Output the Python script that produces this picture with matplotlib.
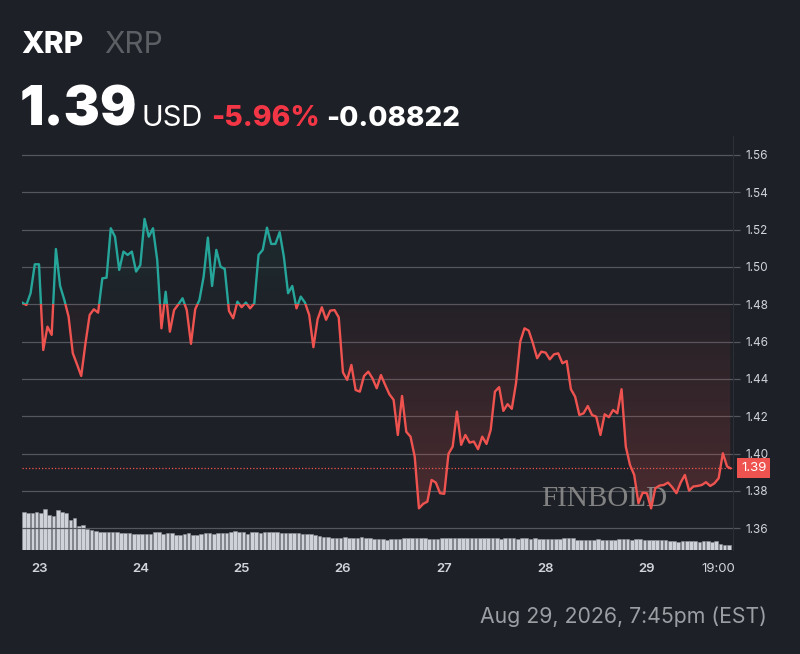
import numpy as np
from matplotlib import pyplot as plt
from matplotlib.path import Path
from matplotlib.patches import PathPatch, Rectangle
from matplotlib.colors import to_rgb
from matplotlib.transforms import ScaledTranslation, blended_transform_factory

# hourly closes, Aug 22 20:00 -> Aug 29 19:00, plus the 19:45 print
prices = [
    1.4809, 1.4796, 1.4859, 1.5014, 1.5014, 1.4555, 1.4680, 1.4636, 1.5096, 1.4898,
    1.4823, 1.4734, 1.4538, 1.4478, 1.4416, 1.4590, 1.4743, 1.4773, 1.4755, 1.4939,
    1.4942, 1.5207, 1.5162, 1.4984, 1.5082, 1.5064, 1.5082, 1.4975, 1.5010, 1.5257,
    1.5162, 1.5207, 1.5037, 1.4671, 1.4867, 1.4653, 1.4769, 1.4799, 1.4832, 1.4769,
    1.4588, 1.4773, 1.4823, 1.4948, 1.5157, 1.4898, 1.5091, 1.5001, 1.4989, 1.4764,
    1.4725, 1.4814, 1.4784, 1.4809, 1.4778, 1.4805, 1.5064, 1.5091, 1.5210, 1.5123,
    1.5123, 1.5186, 1.5055, 1.4859, 1.4898, 1.4778, 1.4841, 1.4809, 1.4743, 1.4570,
    1.4720, 1.4784, 1.4717, 1.4766, 1.4769, 1.4730, 1.4435, 1.4395, 1.4475, 1.4341,
    1.4332, 1.4416, 1.4439, 1.4403, 1.4350, 1.4421, 1.4368, 1.4318, 1.4288, 1.4100,
    1.4309, 1.4117, 1.4091, 1.3984, 1.3707, 1.3731, 1.3743, 1.3859, 1.3845, 1.3788,
    1.3785, 1.3999, 1.4038, 1.4225, 1.4047, 1.4100, 1.4059, 1.4065, 1.4024, 1.4091,
    1.4052, 1.4127, 1.4332, 1.4356, 1.4229, 1.4265, 1.4240, 1.4377, 1.4600, 1.4671,
    1.4659, 1.4591, 1.4511, 1.4546, 1.4541, 1.4505, 1.4532, 1.4537, 1.4484, 1.4496,
    1.4345, 1.4305, 1.4207, 1.4216, 1.4255, 1.4207, 1.4198, 1.4100, 1.4211, 1.4195,
    1.4234, 1.4216, 1.4345, 1.4038, 1.3939, 1.3886, 1.3734, 1.3791, 1.3788, 1.3707,
    1.3815, 1.3829, 1.3832, 1.3845, 1.3820, 1.3788, 1.3845, 1.3886, 1.3802, 1.3824,
    1.3827, 1.3832, 1.3847, 1.3827, 1.3841, 1.3868, 1.4002, 1.3931, 1.3922,
]
# hours relative to Aug 23 00:00
hours = list(range(-4, 164)) + [163.75]

volume = [
    37.7, 36.7, 36.7, 37.7, 36.7, 41.3, 35.3, 33.7, 39.7, 38.3, 36.7, 30.3, 32.3,
    24.3, 25.0, 20.7, 19.7, 19.0, 18.3, 18.3, 17.7, 17.7, 18.3, 16.7, 16.7, 16.7, 16.3,
    16.3, 16.3, 16.3, 16.3, 17.7, 17.7, 15.7, 17.3, 16.7, 14.7, 14.7, 15.7, 16.7, 15.3, 15.3,
    15.7, 17.3, 17.3, 15.7, 17.3, 16.7, 16.7, 18.3, 19.0, 18.3, 18.3, 16.3, 18.3, 18.0,
    17.3, 18.3, 18.3, 18.3, 18.3, 17.3, 17.3, 16.7, 16.7, 16.7, 15.7, 15.7, 15.7, 15.0,
    14.0, 13.3, 13.3, 12.3, 12.3, 12.3, 13.0, 12.3, 12.3, 12.3, 13.0, 11.7, 11.7, 10.7,
    10.7, 10.7, 10.0, 11.3, 10.7, 10.7, 11.7, 11.7, 12.3, 11.7, 12.3, 12.3, 10.7, 11.3,
    10.7, 12.3, 12.3, 12.3, 12.3, 11.7, 11.7, 11.7, 11.7, 12.3, 12.3, 12.3, 12.3, 12.3,
    11.7, 11.3, 11.7, 12.0, 11.7, 11.3, 11.7, 11.7, 11.3, 11.7, 11.3,
    11.3, 11.3, 10.7, 11.3, 11.3, 11.7, 11.7, 11.7,
    10.3, 10.3, 10.0, 10.3, 10.3, 10.7, 10.3, 10.3, 10.0, 10.3, 11.3,
    10.7, 10.7, 10.3, 10.7, 10.7, 10.0, 10.0, 10.3, 10.0, 10.0, 9.7,
    8.7, 8.7, 8.3, 8.7, 9.0, 8.7, 8.7, 8.3, 8.7, 8.7, 8.3, 8.7, 5.7, 5.3, 5.3,
]

prev_close = 1.4804
last_price = prices[-1]
day_ticks = [0, 24, 48, 72, 96, 120, 144, 163]
day_labels = ['23', '24', '25', '26', '27', '28', '29', '19:00']
y_ticks = [1.36, 1.38, 1.40, 1.42, 1.44, 1.46, 1.48, 1.50, 1.52, 1.54, 1.56]

BG = '#1d2026'
GREEN = '#26a69a'
RED = '#ef5350'
GRID = '#54575d'
TXT = '#d1d4dc'
W, H = 800, 654

plt.rcParams['font.family'] = ['Inter', 'DejaVu Sans']


def px(x, y):
    return x / W, 1 - y / H


def gradient_area(ax, x, y, base, above, color, a_lo, a_hi):
    where = y >= base if above else y <= base
    coll = ax.fill_between(x, y, base, where=where, interpolate=True,
                           facecolor='none', edgecolor='none')
    path = Path.make_compound_path(*coll.get_paths())
    clip = PathPatch(path, transform=ax.transData, facecolor='none', edgecolor='none')
    ax.add_patch(clip)
    ramp = np.linspace(0, 1, 256)
    rgba = np.zeros((256, 1, 4))
    rgba[:, 0, :3] = to_rgb(color)
    if above:
        lo, hi = base, y.max()
        rgba[:, 0, 3] = a_lo + (a_hi - a_lo) * ramp
    else:
        lo, hi = y.min(), base
        rgba[:, 0, 3] = a_hi - (a_hi - a_lo) * ramp
    im = ax.imshow(rgba, extent=(x[0], x[-1], lo, hi), origin='lower',
                   aspect='auto', zorder=1, interpolation='bilinear')
    im.set_clip_path(clip)


x = np.array(hours, dtype=float)
y = np.array(prices)
xlim = (-4.03, 164.4)
ylim = (1.3484, 1.5701)

fig = plt.figure(figsize=(W / 100, H / 100), dpi=100, facecolor=BG)
rect = [22 / W, 104 / H, 711 / W, 414 / H]

vax = fig.add_axes(rect)
vax.set_facecolor(BG)
vax.bar(x[:len(volume)], volume, width=0.86, align='edge',
        color='#cfd2d9', edgecolor='#8e9198', linewidth=0.4)
vax.set_xlim(xlim)
vax.set_ylim(0, 414)
vax.axis('off')

ax = fig.add_axes(rect)
ax.set_facecolor('none')
ax.set_xlim(xlim)
ax.set_ylim(ylim)

gradient_area(ax, x, y, prev_close, True, GREEN, 0.02, 0.10)
gradient_area(ax, x, y, prev_close, False, RED, 0.03, 0.22)

# watermark
ax.text(134, 1.3717, 'FINBOLD', ha='center', va='baseline', fontsize=21,
        family='Liberation Serif', color='#8d8d8d', alpha=0.9, zorder=2)

g_line, = ax.plot(x, y, color=GREEN, lw=1.7, zorder=3, solid_joinstyle='round')
g_line.set_clip_path(Rectangle((xlim[0], prev_close), 200, 1, transform=ax.transData))
r_line, = ax.plot(x, y, color=RED, lw=1.7, zorder=3, solid_joinstyle='round')
r_line.set_clip_path(Rectangle((xlim[0], prev_close - 1), 200, 1, transform=ax.transData))

ax.axhline(last_price, color=RED, lw=0.9, ls=(0, (1, 1.6)), zorder=2)

ax.yaxis.tick_right()
ax.set_yticks(y_ticks)
ax.set_yticklabels([f'{v:.2f}' for v in y_ticks])
ax.yaxis.grid(True, color=GRID, lw=0.9)
ax.set_axisbelow(True)
ax.tick_params(axis='y', length=5, width=0.9, color=GRID, pad=4,
               labelsize=8.5, labelcolor=TXT)
ax.set_xticks(day_ticks)
ax.set_xticklabels(day_labels)
ax.tick_params(axis='x', length=0, pad=9, labelsize=9.5, labelcolor=TXT)
for lab in ax.get_xticklabels()[:-1]:
    lab.set_fontweight('semibold')
last_lab = ax.get_xticklabels()[-1]
last_lab.set_transform(last_lab.get_transform() + ScaledTranslation(-0.09, 0, fig.dpi_scale_trans))

for side in ['top', 'left', 'bottom']:
    ax.spines[side].set_visible(False)
ax.spines['right'].set_color('#2c2f36')

tr = blended_transform_factory(ax.transAxes, ax.transData)
price_tag = ax.text(1.0, last_price, '1.39', transform=tr, ha='left', va='center',
                    fontsize=9.5, color='white', zorder=5, clip_on=False,
                    bbox=dict(boxstyle='square,pad=0.3', facecolor=RED, edgecolor='none'))
price_tag.set_transform(tr + ScaledTranslation(0.08, 0, fig.dpi_scale_trans))

# header
fig.text(*px(21, 53), 'XRP', fontsize=21.5, fontweight='heavy', color='white', va='baseline')
fig.text(*px(104, 53), 'XRP', fontsize=21.5, color='#5c5f64', va='baseline')
fig.text(*px(20, 126), '1.39', fontsize=39, fontweight='black', color='white', va='baseline')
fig.text(*px(142, 126), 'USD', fontsize=21, color='white', va='baseline')
fig.text(*px(211, 126), '-5.96%', fontsize=20.5, fontweight='heavy', color='#f23645', va='baseline')
fig.text(*px(326, 126), '-0.08822', fontsize=20, fontweight='heavy', color='white', va='baseline')
fig.text(*px(767, 623), 'Aug 29, 2026, 7:45pm (EST)', fontsize=15.3, color='#9b9ea3',
         va='baseline', ha='right')

fig.savefig('out.png', dpi=100, facecolor=BG)
